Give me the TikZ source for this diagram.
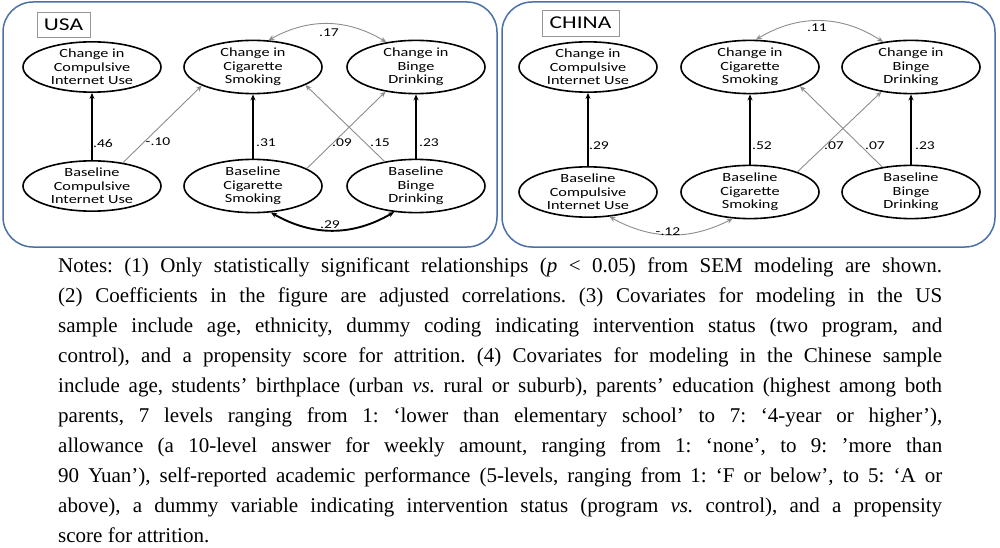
\documentclass[tikz,border=0pt]{standalone}
\usepackage{fontspec}
\setmainfont{Liberation Serif}
\newfontfamily\diagfont[FakeStretch=1.3]{Carlito}
\usetikzlibrary{shapes.geometric,arrows.meta}
\definecolor{boxblue}{RGB}{74,112,168}
\definecolor{arrgray}{RGB}{140,140,140}
\definecolor{lblgray}{RGB}{150,150,150}
\begin{document}
\begin{tikzpicture}[x=1pt,y=1pt,
  panel/.style={draw=boxblue, line width=1.5pt, rounded corners=30pt, inner sep=0pt},
  titlebox/.style={draw=lblgray, line width=0.9pt, inner sep=0pt, font=\diagfont\fontsize{18}{18}\selectfont},
  var/.style={ellipse, draw=black, line width=1.6pt, minimum width=138pt, minimum height=44pt, inner sep=0pt, align=center, font=\diagfont\fontsize{12.5}{13.4}\selectfont},
  coef/.style={font=\diagfont\fontsize{12}{13}\selectfont, inner sep=1pt},
  strong/.style={draw=black, line width=1.9pt, -{Stealth[length=6pt,width=5pt]}},
  weak/.style={draw=arrgray, line width=0.9pt, -{Stealth[length=6pt,width=5pt]}},
  corrstrong/.style={draw=black, line width=1.9pt, {Stealth[length=6pt,width=5pt]}-{Stealth[length=6pt,width=5pt]}},
  corrweak/.style={draw=arrgray, line width=0.9pt, {Stealth[length=6pt,width=5pt]}-{Stealth[length=6pt,width=5pt]}}
]
\useasboundingbox (0,0) rectangle (1000,-548);

% ---------------- USA panel ----------------
\node[panel, minimum width=494pt, minimum height=245pt] (usapanel) at (250,-124.5) {};
\node[titlebox, minimum width=53pt, minimum height=25pt] (usatitle) at (63.5,-24.5) {USA};

\node[var] (ucci) at (92,-67)  {Change in\\Compulsive\\Internet Use};
\node[var] (uccs) at (253,-67) {Change in\\Cigarette\\Smoking};
\node[var] (ucbd) at (416,-67) {Change in\\Binge\\Drinking};
\node[var, minimum height=45pt] (ubci) at (92,-186)  {Baseline\\Compulsive\\Internet Use};
\node[var, minimum height=45pt] (ubcs) at (253,-186) {Baseline\\Cigarette\\Smoking};
\node[var, minimum height=45pt] (ubbd) at (416,-186) {Baseline\\Binge\\Drinking};

\draw[strong] (ubci.north) -- (ucci.south);
\draw[weak] (ubci.37) -- (uccs.200);
\draw[strong] (ubcs.north) -- (uccs.south);
\draw[weak] (ubcs.18) -- (ucbd.219);
\draw[weak] (ubbd.142) -- (uccs.341);
\draw[strong] (ubbd.north) -- (ucbd.south);
\draw[corrweak] (uccs.60) to[bend left=30] (ucbd.140);
\draw[corrstrong] (ubcs.304) to[bend right=30] (ubbd.230);

\node[coef] (u46) at (103,-143) {.46};
\node[coef] (u10) at (158,-142) {-.10};
\node[coef] (u31) at (266,-143) {.31};
\node[coef] (u09) at (342,-143) {.09};
\node[coef] (u15) at (380,-143) {.15};
\node[coef] (u23) at (429,-143) {.23};
\node[coef] (u17) at (329,-33) {.17};
\node[coef] (u29) at (330,-225) {.29};

% ---------------- CHINA panel ----------------
\node[panel, minimum width=493pt, minimum height=245pt] (chnpanel) at (748.5,-124.5) {};
\node[titlebox, minimum width=77pt, minimum height=26pt] (chntitle) at (580.5,-23) {CHINA};

\node[var] (ccci) at (588,-67) {Change in\\Compulsive\\Internet Use};
\node[var] (cccs) at (750,-67) {Change in\\Cigarette\\Smoking};
\node[var] (ccbd) at (911,-67) {Change in\\Binge\\Drinking};
\node[var, minimum height=47pt] (cbci) at (588,-192) {Baseline\\Compulsive\\Internet Use};
\node[var, minimum height=47pt] (cbcs) at (750,-192) {Baseline\\Cigarette\\Smoking};
\node[var, minimum height=47pt] (cbbd) at (911,-192) {Baseline\\Binge\\Drinking};

\draw[strong] (cbci.north) -- (ccci.south);
\draw[strong] (cbcs.north) -- (cccs.south);
\draw[weak] (cbcs.23) -- (ccbd.220);
\draw[weak] (cbbd.139) -- (cccs.339);
\draw[strong] (cbbd.north) -- (ccbd.south);
\draw[corrweak] (cccs.78) to[bend left=32] (ccbd.138);
\draw[corrweak] (cbci.311) to[bend right=28] (cbcs.237);

\node[coef] (c29) at (599,-146) {.29};
\node[coef] (c52) at (762,-146) {.52};
\node[coef] (c07a) at (834,-146) {.07};
\node[coef] (c07b) at (875,-146) {.07};
\node[coef] (c23) at (925,-146) {.23};
\node[coef] (c11) at (817,-28) {.11};
\node[coef] (c12) at (668,-232) {-.12};

% ---------------- Notes ----------------
\node[anchor=north west, inner sep=0pt, text width=884pt, align=justify,
      font=\fontsize{21}{30}\selectfont] (notes) at (58,-251) {\frenchspacing\spaceskip=0.25em plus 0.4em minus 0.1em\relax
\strut Notes: (1) Only statistically significant relationships (\textit{p} {<} 0.05) from SEM modeling are shown.\linebreak
(2) Coefficients in the figure are adjusted correlations. (3) Covariates for modeling in the US\linebreak
sample include age, ethnicity, dummy coding indicating intervention status (two program, and\linebreak
control), and a propensity score for attrition. (4) Covariates for modeling in the Chinese sample\linebreak
include age, students’ birthplace (urban \textit{vs.} rural or suburb), parents’ education (highest among both\linebreak
parents, 7 levels ranging from 1: ‘lower than elementary school’ to 7: ‘4-year or higher’),\linebreak
allowance (a 10-level answer for weekly amount, ranging from 1: ‘none’, to 9: ’more than\linebreak
90 Yuan’), self-reported academic performance (5-levels, ranging from 1: ‘F or below’, to 5: ‘A or\linebreak
above), a dummy variable indicating intervention status (program \textit{vs.} control), and a propensity\linebreak
score for attrition.};
\end{tikzpicture}
\end{document}
